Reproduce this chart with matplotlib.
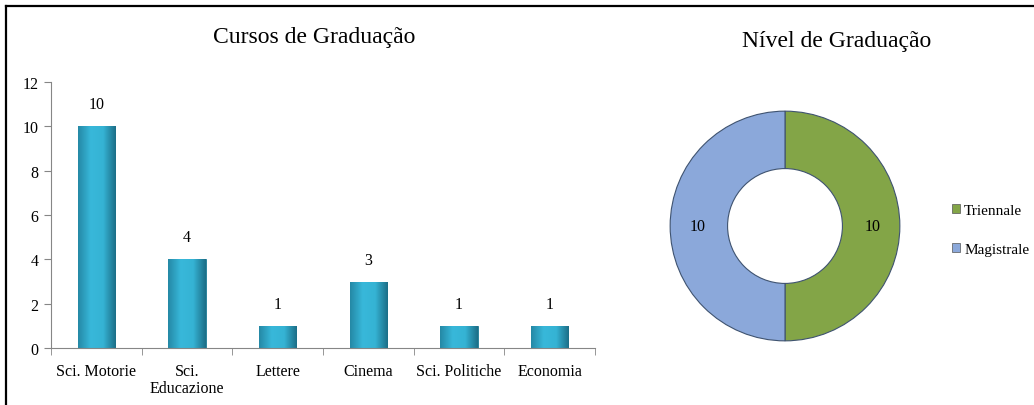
import numpy as np
import matplotlib
matplotlib.use('Agg')
import matplotlib.pyplot as plt
from matplotlib.colors import LinearSegmentedColormap
from matplotlib.lines import Line2D
from matplotlib.patches import Patch

plt.rcParams['font.family'] = ['Liberation Serif', 'DejaVu Serif']

# ----- data -----
cursos = ['Sci. Motorie', 'Sci.\nEducazione', 'Lettere', 'Cinema', 'Sci. Politiche', 'Economia']
alunos = [10, 4, 1, 3, 1, 1]

niveis = ['Triennale', 'Magistrale']
qtd_nivel = [10, 10]

W, H = 1034, 406
fig = plt.figure(figsize=(W / 100, H / 100), dpi=100)

# moldura (borda superior e esquerda do recorte)
fig.add_artist(Line2D([6 / W, 1], [1 - 7 / H] * 2, transform=fig.transFigure, color='black', lw=1.6))
fig.add_artist(Line2D([6 / W] * 2, [0, 1 - 7 / H], transform=fig.transFigure, color='black', lw=1.6))

# ----- grafico de barras -----
ax = fig.add_axes([51 / W, 1 - 349 / H, 544 / W, 266 / H])
x = np.arange(len(cursos))
bars = ax.bar(x, alunos, width=0.41, color='#31ABCC', edgecolor='#1D7791', lw=0.6, zorder=2)

# gradiente horizontal em cada barra
grad_cmap = LinearSegmentedColormap.from_list('g', ['#2589A6', '#38B8DA', '#35B3D4', '#1C6F88'])
grad = np.linspace(0, 1, 64).reshape(1, -1)
for b in bars:
    im = ax.imshow(grad, extent=[b.get_x(), b.get_x() + b.get_width(), 0, b.get_height()],
                   cmap=grad_cmap, aspect='auto', zorder=2.5)
    im.set_clip_path(b)

for xi, v in zip(x, alunos):
    ax.annotate(str(v), (xi, v), xytext=(0, 10), textcoords='offset points',
                ha='center', va='bottom', fontsize=11.5)

ax.set_xlim(-0.5, len(cursos) - 0.5)
ax.set_ylim(0, 12)
ax.set_yticks(range(0, 13, 2))
ax.set_xticks(x)
ax.set_xticklabels(cursos, fontsize=11.5, linespacing=1.05)
ax.set_xticks(np.arange(-0.5, len(cursos)), minor=True)
ax.tick_params(axis='x', which='major', length=0, pad=11)
ax.tick_params(axis='x', which='minor', length=5, color='#868686', direction='out')
ax.tick_params(axis='y', length=5, color='#868686', labelsize=11.5, pad=4)
for s in ['top', 'right']:
    ax.spines[s].set_visible(False)
for s in ['left', 'bottom']:
    ax.spines[s].set_color('#868686')
fig.text(314 / W, 1 - 37 / H, 'Cursos de Graduação', ha='center', va='center', fontsize=17)

# ----- grafico de rosca -----
ax2 = fig.add_axes([669 / W, 1 - 343 / H, 232 / W, 232 / H])
tot = sum(qtd_nivel)
wedges, _, autotexts = ax2.pie(qtd_nivel, colors=['#83A547', '#8BA8DA'], startangle=90,
                               counterclock=False, radius=1,
                               wedgeprops=dict(width=0.5, edgecolor='#3F5370', lw=0.8),
                               autopct=lambda p: f'{p * tot / 100:.0f}', pctdistance=0.76,
                               textprops=dict(fontsize=11.5))
ax2.set_xlim(-1.01, 1.01)
ax2.set_ylim(-1.01, 1.01)
fig.text(837 / W, 1 - 42 / H, 'Nível de Graduação', ha='center', va='center', fontsize=17)

handles = [Patch(facecolor=w.get_facecolor(), edgecolor='#555555', lw=0.5) for w in wedges]
fig.legend(handles, niveis, loc='center left', bbox_to_anchor=(952 / W, 1 - 231 / H),
           frameon=False, fontsize=11, handlelength=0.5, handleheight=0.55,
           handletextpad=0.3, labelspacing=1.7, borderpad=0, borderaxespad=0)

fig.savefig('out.png', dpi=100)
